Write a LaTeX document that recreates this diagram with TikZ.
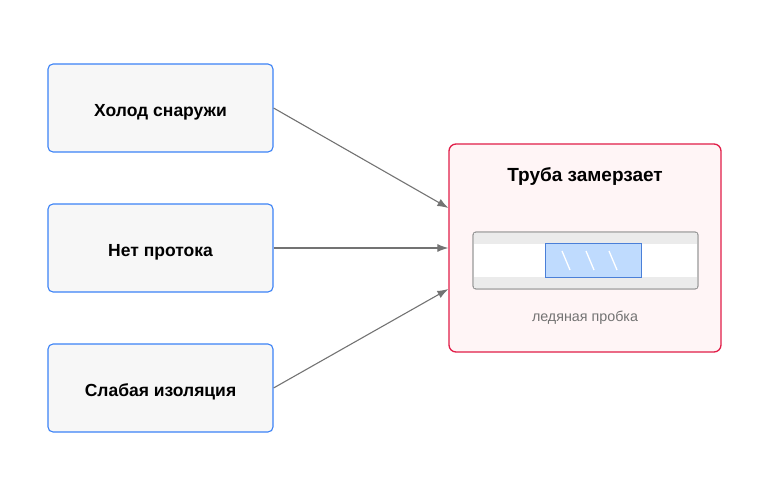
\documentclass[tikz,border=0pt]{standalone}
\usepackage{fontspec}
\setmainfont{Liberation Sans}
\usetikzlibrary{arrows.meta}
\definecolor{causeblue}{HTML}{3B82F6}
\definecolor{causefill}{HTML}{F7F7F7}
\definecolor{alarmred}{HTML}{E11D48}
\definecolor{alarmfill}{HTML}{FFF5F6}
\definecolor{icefill}{HTML}{BFDBFE}
\definecolor{iceline}{HTML}{4A7FD8}
\definecolor{wallgray}{HTML}{EBEBEB}
\begin{document}
\begin{tikzpicture}[x=1pt,y=-1pt,
  cause/.style={draw=causeblue,fill=causefill,rounded corners=5pt,line width=1.1pt,
    minimum width=225pt,minimum height=88pt,text height=17pt,text depth=0pt,
    font=\bfseries\fontsize{17.5}{20}\selectfont},
  link/.style={draw=black!55,line width=1.1pt,-{Latex[length=11pt,width=8pt]}}]
  \useasboundingbox (0,0) rectangle (770,497);
  \node[cause] (cold) at (160.5,108) {Холод снаружи};
  \node[cause] (flow) at (160.5,248) {Нет протока};
  \node[cause] (insul) at (160.5,388) {Слабая изоляция};
  \node[draw=alarmred,fill=alarmfill,rounded corners=7pt,line width=1.3pt,
    minimum width=272pt,minimum height=208pt] (pipe) at (585,248) {};
  \node[font=\bfseries\fontsize{19}{22}\selectfont] (title) at (585,177) {Труба замерзает};
  % pipe section
  \draw[fill=white,draw=black!40,line width=1.2pt,rounded corners=3pt] (473,232) rectangle (698,289);
  \fill[wallgray] (474,233) rectangle (697,244);
  \fill[wallgray] (474,277) rectangle (697,288);
  \draw[fill=icefill,draw=iceline,line width=0.8pt] (545,243) rectangle (641,277);
  \foreach \x in {562,586,609}
    \draw[white,line width=1.3pt] (\x,251) -- (\x+8,270);
  \node[text=black!55,font=\fontsize{14.3}{16}\selectfont] (label) at (585,318) {ледяная пробка};
  \draw[link] (cold.east) -- (pipe.west |- 0,208);
  \draw[link] (flow.east) -- (pipe.west);
  \draw[link] (insul.east) -- (pipe.west |- 0,289);
\end{tikzpicture}
\end{document}
